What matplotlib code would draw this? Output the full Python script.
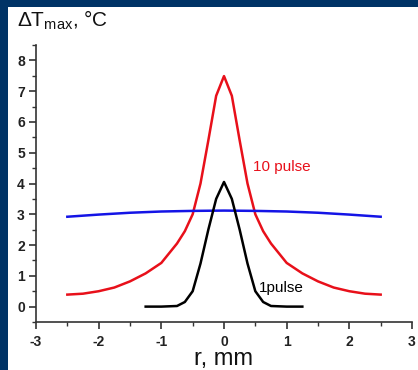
import matplotlib
matplotlib.use("Agg")
import matplotlib.pyplot as plt
from matplotlib.patches import Rectangle
from matplotlib.ticker import MultipleLocator

plt.rcParams['font.family'] = ['Liberation Sans', 'DejaVu Sans']
plt.rcParams['mathtext.fontset'] = 'custom'
plt.rcParams['mathtext.rm'] = 'Liberation Sans'
plt.rcParams['mathtext.it'] = 'Liberation Sans'
plt.rcParams['axes.unicode_minus'] = False

# 10 pulse (red)
r10 = [-2.5, -2.25, -2.0, -1.75, -1.5, -1.25, -1.0, -0.75, -0.625, -0.5, -0.375, -0.25, -0.125, 0.0,
       0.125, 0.25, 0.375, 0.5, 0.625, 0.75, 1.0, 1.25, 1.5, 1.75, 2.0, 2.25, 2.5]
t10 = [0.39, 0.42, 0.5, 0.62, 0.82, 1.08, 1.42, 2.05, 2.45, 3.0, 4.0, 5.4, 6.85, 7.49,
       6.85, 5.4, 4.0, 3.0, 2.45, 2.05, 1.42, 1.08, 0.82, 0.62, 0.5, 0.42, 0.39]

# 1 pulse (black)
r1 = [-1.25, -1.0, -0.75, -0.625, -0.5, -0.375, -0.25, -0.125, 0.0,
      0.125, 0.25, 0.375, 0.5, 0.625, 0.75, 1.0, 1.25]
t1 = [0.0, 0.0, 0.02, 0.15, 0.5, 1.4, 2.5, 3.5, 4.05,
      3.5, 2.5, 1.4, 0.5, 0.15, 0.02, 0.0, 0.0]

# blue curve
rb = [-2.5, -2.0, -1.5, -1.0, -0.5, 0.0, 0.5, 1.0, 1.5, 2.0, 2.5]
tb = [2.92, 2.99, 3.05, 3.09, 3.11, 3.12, 3.11, 3.09, 3.05, 2.99, 2.92]

xticks = [-3, -2, -1, 0, 1, 2, 3]
yticks = [0, 1, 2, 3, 4, 5, 6, 7, 8]

W, H = 418, 370
fig = plt.figure(figsize=(W / 100, H / 100), dpi=100)
fig.patch.set_facecolor('#003366')
fig.patches.append(Rectangle((8 / W, 0), 1 - 8 / W, 1 - 7 / H, transform=fig.transFigure,
                             facecolor='white', edgecolor='none', zorder=0))

ax = fig.add_axes([36 / W, (H - 322) / H, (412 - 36) / W, (322 - 45) / H])
ax.set_facecolor('none')
ax.set_zorder(2)

ax.plot(r10, t10, color='#e8101a', lw=1.8)
ax.plot(rb, tb, color='#1414e6', lw=1.8)
ax.plot(r1, t1, color='black', lw=1.8)

ax.set_xlim(-3, 3)
ax.set_ylim(-0.5, 8.5)
ax.set_xticks(xticks)
ax.set_xticklabels([str(v) for v in xticks], fontweight='bold', fontsize=10, color='#222222')
ax.set_yticks(yticks)
ax.set_yticklabels([str(v) for v in yticks], fontweight='bold', fontsize=10, color='#222222')
ax.xaxis.set_minor_locator(MultipleLocator(0.5))
ax.yaxis.set_minor_locator(MultipleLocator(0.5))

for s in ['top', 'right']:
    ax.spines[s].set_visible(False)
for s in ['left', 'bottom']:
    ax.spines[s].set_color('#333333')
    ax.spines[s].set_linewidth(1.2)

ax.tick_params(which='major', direction='out', length=5, width=1.2, color='#333333', pad=3)
ax.tick_params(which='minor', direction='out', length=3, width=1.0, color='#333333')
ax.tick_params(axis='x', pad=4)

ax.text(0.47, 4.52, '10 pulse', color='#e8101a', fontsize=11, va='center', ha='left')
ax.text(0.55, 0.62, '1pulse', color='black', fontsize=11, va='center', ha='left')

fig.text(17 / W, (H - 27) / H, r'$\Delta\mathrm{T}_{\mathrm{max}}$, °C', fontsize=15,
         ha='left', va='baseline', color='#111111', zorder=3)
fig.text(224 / W, (H - 365) / H, 'r, mm', fontsize=17, ha='center', va='baseline',
         color='#111111', zorder=3)

fig.savefig('out.png', dpi=100, facecolor=fig.get_facecolor())
